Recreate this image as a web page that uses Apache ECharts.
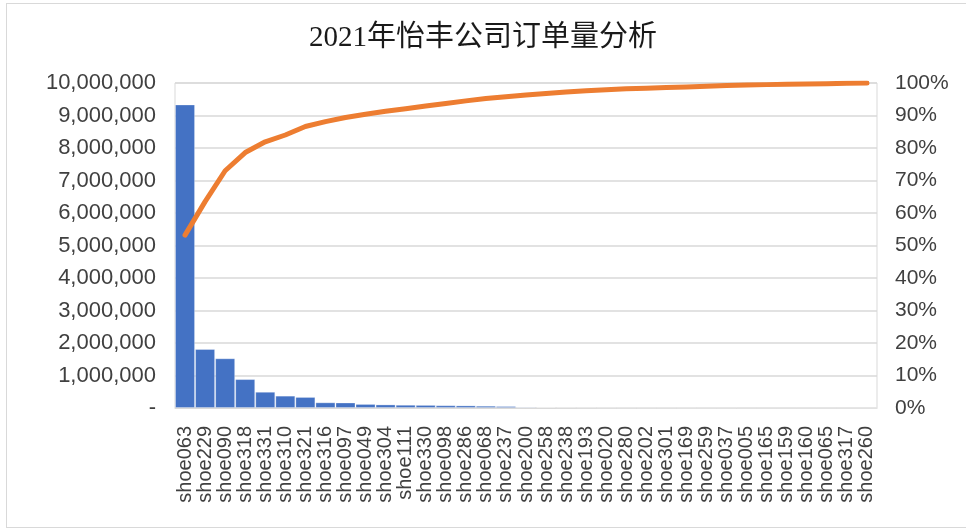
<!DOCTYPE html>
<html>
<head>
<meta charset="utf-8">
<script src="https://cdn.jsdelivr.net/npm/echarts@6/dist/echarts.min.js"></script>
<style>
  html, body { margin: 0; padding: 0; background: #fff; }
  #frame { position: absolute; left: 6px; top: 3px; width: 972px; height: 523px; border: 1px solid #d9d9d9; }
  #main { position: absolute; left: 0; top: 0; width: 966px; height: 529px; }
</style>
</head>
<body>
<div id="frame"></div>
<div id="main"></div>
<script>
// 产品编号
var categories = ['shoe063', 'shoe229', 'shoe090', 'shoe318', 'shoe331', 'shoe310', 'shoe321', 'shoe316', 'shoe097',
  'shoe049', 'shoe304', 'shoe111', 'shoe330', 'shoe098', 'shoe286', 'shoe068', 'shoe237', 'shoe200', 'shoe258',
  'shoe238', 'shoe193', 'shoe020', 'shoe280', 'shoe202', 'shoe301', 'shoe169', 'shoe259', 'shoe037', 'shoe005',
  'shoe165', 'shoe159', 'shoe160', 'shoe065', 'shoe317', 'shoe260'];

// 订单量
var orders = [9340000, 1815000, 1530000, 890000, 500000, 380000, 340000, 175000, 170000,
  125000, 110000, 100000, 95000, 85000, 80000, 70000, 60000, 35000, 28000,
  20000, 15000, 10000, 8000, 5000, 4000, 3000, 2500, 2000, 1500,
  1200, 1000, 800, 600, 400, 300];

// 累计占比 (%)
var cumPercent = [53.2, 63.5, 73.0, 78.6, 81.9, 84.0, 86.6, 88.1, 89.4,
  90.4, 91.3, 92.1, 92.9, 93.7, 94.5, 95.2, 95.8, 96.3, 96.8,
  97.2, 97.6, 97.9, 98.2, 98.4, 98.6, 98.8, 99.0, 99.2, 99.4,
  99.5, 99.6, 99.7, 99.8, 99.9, 100];

var labelFont = 'Liberation Sans, Noto Sans CJK SC, sans-serif';
var chart = echarts.init(document.getElementById('main'));

chart.setOption({
  animation: false,
  title: {
    text: '2021年怡丰公司订单量分析',
    left: 'center',
    top: 19,
    textStyle: {
      fontFamily: 'Liberation Serif, Noto Sans CJK SC, serif',
      fontSize: 29,
      fontWeight: 'normal',
      color: '#1a1a1a'
    }
  },
  grid: {
    left: 175,
    right: 89,
    top: 83,
    bottom: 121,
    show: true,
    borderColor: '#d9d9d9',
    borderWidth: 1
  },
  xAxis: {
    type: 'category',
    data: categories,
    axisTick: { show: false },
    axisLine: { show: true, lineStyle: { color: '#d9d9d9' } },
    axisLabel: {
      interval: 0,
      rotate: 90,
      margin: 18,
      fontSize: 20,
      fontFamily: labelFont,
      color: '#404040'
    }
  },
  yAxis: [
    {
      type: 'value',
      min: 0,
      max: 10000000,
      interval: 1000000,
      axisLine: { show: false },
      axisTick: { show: false },
      splitLine: { lineStyle: { color: '#d9d9d9', width: 1.5 } },
      axisLabel: {
        margin: 19,
        fontSize: 22,
        fontFamily: labelFont,
        color: '#404040',
        formatter: function (v) {
          if (v === 0) return '-';
          return v.toString().replace(/\B(?=(\d{3})+(?!\d))/g, ',');
        }
      }
    },
    {
      type: 'value',
      min: 0,
      max: 100,
      interval: 10,
      position: 'right',
      axisLine: { show: false },
      axisTick: { show: false },
      splitLine: { show: false },
      axisLabel: {
        margin: 18,
        fontSize: 21,
        fontFamily: labelFont,
        color: '#404040',
        formatter: '{value}%'
      }
    }
  ],
  series: [
    {
      name: '订单量',
      type: 'bar',
      data: orders,
      barCategoryGap: '0%',
      itemStyle: {
        color: '#4472c4',
        borderColor: 'rgba(255,255,255,0.3)',
        borderWidth: 1
      }
    },
    {
      name: '累计占比',
      type: 'line',
      yAxisIndex: 1,
      data: cumPercent,
      symbol: 'none',
      lineStyle: { color: '#ed7d31', width: 5, cap: 'round', join: 'round' }
    }
  ]
});
</script>
</body>
</html>
